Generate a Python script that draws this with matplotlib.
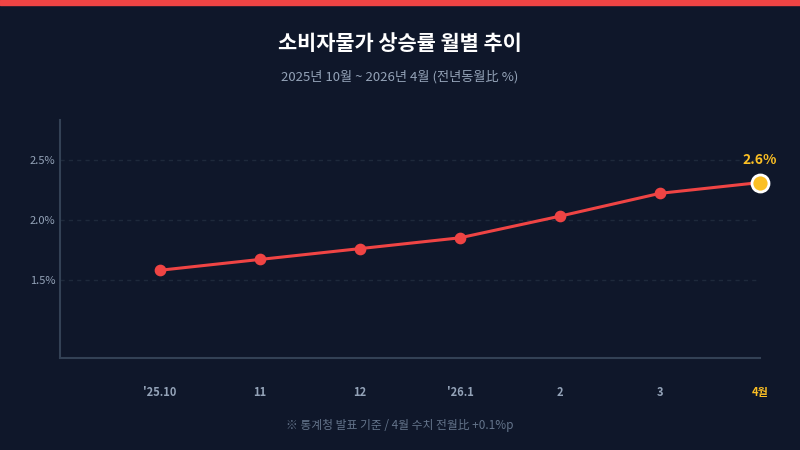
import matplotlib
matplotlib.use("Agg")
import matplotlib.pyplot as plt

plt.rcParams['font.family'] = ['Noto Sans CJK KR', 'DejaVu Sans']

months = ["'25.10", "11", "12", "'26.1", "2", "3", "4월"]
cpi = [1.58, 1.67, 1.76, 1.85, 2.03, 2.22, 2.31]
last_label = "2.6%"
yticks = [1.5, 2.0, 2.5]
ytick_labels = ["1.5%", "2.0%", "2.5%"]

BG = "#0f172a"
RED = "#ef4444"
GOLD = "#fbbf24"

fig = plt.figure(figsize=(8, 4.5), dpi=100, facecolor=BG)
fig.patches.append(plt.Rectangle((0, 445 / 450), 1, 5 / 450, transform=fig.transFigure,
                                 color=RED, zorder=5))

ax = fig.add_axes([60 / 800, 1 - 358 / 450, 700 / 800, 238 / 450], facecolor=BG)
x = list(range(len(months)))
ax.set_xlim(-1, 6)
ax.set_ylim(0.85, 2.83)

for y in yticks:
    ax.axhline(y, color="#1e293b", lw=1, ls=(0, (3, 3)), zorder=0)

ax.plot(x, cpi, color=RED, lw=2.2, zorder=2, clip_on=False)
ax.scatter(x[:-1], cpi[:-1], s=55, color=RED, zorder=3, clip_on=False)
ax.scatter(x[-1], cpi[-1], s=150, color=GOLD, edgecolor="white", linewidth=2, zorder=4,
           clip_on=False)
ax.annotate(last_label, (x[-1], cpi[-1]), xytext=(0, 11), textcoords="offset points",
            ha="center", va="bottom", color=GOLD, fontsize=10, fontweight="bold")

for s in ["top", "right"]:
    ax.spines[s].set_visible(False)
for s in ["left", "bottom"]:
    ax.spines[s].set_color("#334155")
    ax.spines[s].set_linewidth(1.5)

ax.set_yticks(yticks, ytick_labels)
ax.set_xticks(x, months)
ax.tick_params(length=0, colors="#94a3b8", labelsize=8)
ax.tick_params(axis="x", pad=20)
for lbl in ax.get_xticklabels():
    lbl.set_fontweight("bold")
ax.get_xticklabels()[-1].set_color(GOLD)

fig.text(0.5, 1 - 44 / 450, "소비자물가 상승률 월별 추이", ha="center", va="center",
         color="white", fontsize=15, fontweight="bold")
fig.text(0.5, 1 - 77 / 450, "2025년 10월 ~ 2026년 4월 (전년동월比 %)", ha="center",
         va="center", color="#94a3b8", fontsize=9.5)
fig.text(0.5, 1 - 426 / 450, "※ 통계청 발표 기준 / 4월 수치 전월比 +0.1%p", ha="center",
         va="center", color="#64748b", fontsize=8.5)

fig.savefig("out.png", dpi=100, facecolor=BG)
